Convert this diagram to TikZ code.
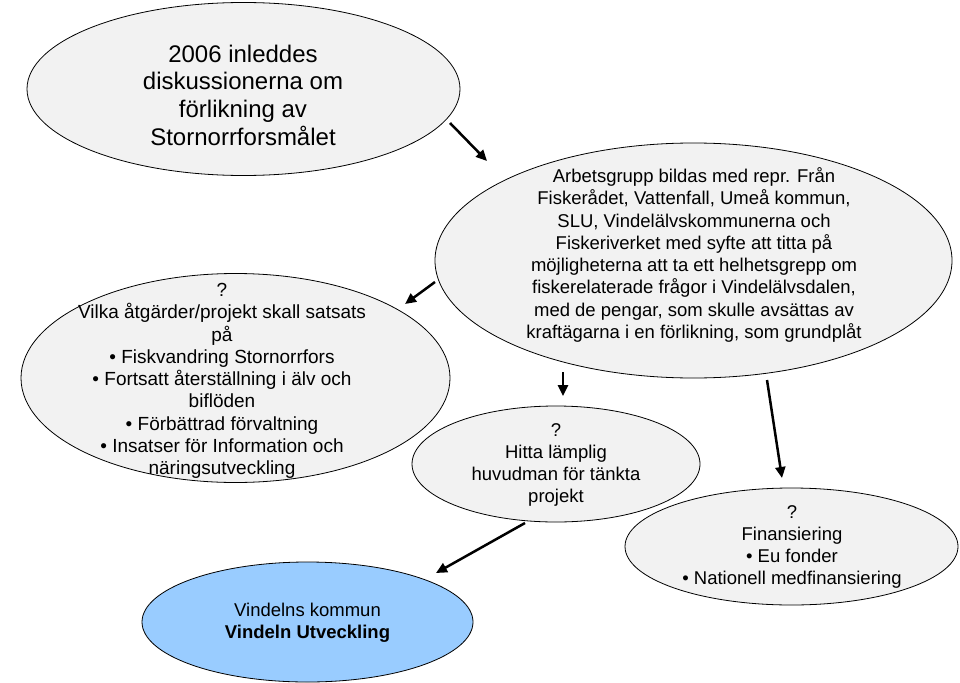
\documentclass[tikz,border=0pt]{standalone}
\usepackage{fontspec}
\setmainfont{Liberation Sans}
\usetikzlibrary{shapes.geometric,arrows.meta}
\definecolor{bubblegray}{RGB}{242,242,242}
\definecolor{bubbleblue}{RGB}{153,204,255}

\begin{document}
\begin{tikzpicture}[
  x=1pt, y=-1pt,
  >={Triangle[length=11pt,width=10pt]},
  bubble/.style    = {ellipse, draw=black, line width=0.8pt,
                      fill=bubblegray, inner sep=0pt},
  bluebubble/.style= {bubble, fill=bubbleblue},
  txt/.style       = {align=center, inner sep=0pt,
                      font=\fontsize{18.5}{22.3}\selectfont},
  widetxt/.style   = {txt, font=\fontsize{19}{22.3}\selectfont},
  bigtxt/.style    = {align=center, inner sep=0pt,
                      font=\fontsize{24}{27.7}\selectfont},
  flow/.style      = {->, draw=black, line width=2.5pt},
]
\useasboundingbox (0,0) rectangle (960,682);

% Ellipses (outline only, text is set on top)
\node[bubble, minimum width=433pt, minimum height=173pt] (start) at (243.5,89) {};
\node[bubble, minimum width=517pt, minimum height=235pt] (group) at (693.5,260.5) {};
\node[bubble, minimum width=429pt, minimum height=209pt] (aims) at (235.5,378) {};
\node[bubble, minimum width=288pt, minimum height=116pt] (owner) at (556,464) {};
\node[bubble, minimum width=333pt, minimum height=117pt] (money) at (791.5,546.5) {};
\node[bluebubble, minimum width=331pt, minimum height=120pt] (vindeln) at (307.5,622) {};

% Texts
\node[bigtxt] (startT) at (243,95) {%
  2006 inleddes\\
  diskussionerna om\\
  förlikning av\\
  Stornorrforsmålet};
\node[txt] (groupT) at (694,255) {%
  Arbetsgrupp bildas med repr. Från\\
  Fiskerådet, Vattenfall, Umeå kommun,\\
  SLU, Vindelälvskommunerna och\\
  Fiskeriverket med syfte att titta på\\
  möjligheterna att ta ett helhetsgrepp om\\
  fiskerelaterade frågor i Vindelälvsdalen,\\
  med de pengar, som skulle avsättas av\\
  kraftägarna i en förlikning, som grundplåt};
\node[widetxt] (aimsT) at (222,381) {%
  ?\\
  Vilka åtgärder/projekt skall satsats\\
  på\\
  • Fiskvandring Stornorrfors\\
  • Fortsatt återställning i älv och\\
  biflöden\\
  • Förbättrad förvaltning\\
  • Insatser för Information och\\
  näringsutveckling};
\node[txt] (ownerT) at (556,465) {%
  ?\\
  Hitta lämplig\\
  huvudman för tänkta\\
  projekt};
\node[txt] (moneyT) at (792,547) {%
  ?\\
  Finansiering\\
  • Eu fonder\\
  • Nationell medfinansiering};
\node[txt] (vindelnT) at (307.5,623) {%
  Vindelns kommun\\
  \textbf{Vindeln Utveckling}};

% Arrow ends between the ellipses
\coordinate (startOut) at (450,123);  \coordinate (groupIn)   at (487,161);
\coordinate (groupOutA) at (435,282); \coordinate (aimsIn)    at (405,304);
\coordinate (groupOutB) at (563,372); \coordinate (ownerIn)   at (563,396);
\coordinate (groupOutC) at (767,380); \coordinate (moneyIn)   at (782,478);
\coordinate (ownerOut) at (525,523);  \coordinate (vindelnIn) at (436,573);

\draw[flow] (startOut) -- (groupIn);
\draw[flow] (groupOutA) -- (aimsIn);
\draw[flow] (groupOutB) -- (ownerIn);
\draw[flow] (groupOutC) -- (moneyIn);
\draw[flow] (ownerOut) -- (vindelnIn);
\end{tikzpicture}
\end{document}
